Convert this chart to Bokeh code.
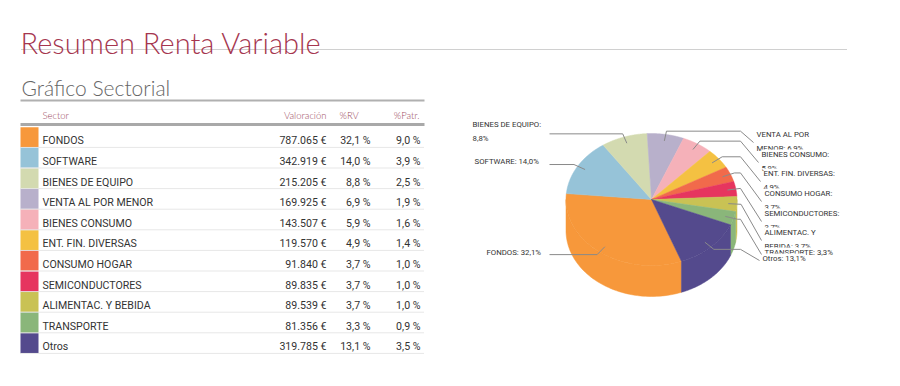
import numpy as np
from bokeh.plotting import figure
from bokeh.models import Range1d, Label, ColumnDataSource
from bokeh.embed import file_html
from bokeh.resources import INLINE
from bokeh.core.properties import value

# ---------------- data ----------------
sectors = ["FONDOS", "SOFTWARE", "BIENES DE EQUIPO", "VENTA AL POR MENOR",
           "BIENES CONSUMO", "ENT. FIN. DIVERSAS", "CONSUMO HOGAR",
           "SEMICONDUCTORES", "ALIMENTAC. Y BEBIDA", "TRANSPORTE", "Otros"]
valoracion = [787065, 342919, 215205, 169925, 143507, 119570, 91840,
              89835, 89539, 81356, 319785]
pct_rv = [32.1, 14.0, 8.8, 6.9, 5.9, 4.9, 3.7, 3.7, 3.7, 3.3, 13.1]
pct_patr = [9.0, 3.9, 2.5, 1.9, 1.6, 1.4, 1.0, 1.0, 1.0, 0.9, 3.5]
colors = ["#f7983b", "#96c3d8", "#d3dab0", "#b8b0cb", "#f5b1b9", "#f4c142",
          "#f16a4b", "#e6355f", "#c9c254", "#8ab67a", "#544a8d"]
pie_labels = ["FONDOS: 32,1%", "SOFTWARE: 14,0%", "BIENES DE EQUIPO:\n8,8%",
              "VENTA AL POR\nMENOR: 6,9%", "BIENES CONSUMO:\n5,9%",
              "ENT. FIN. DIVERSAS:\n4,9%", "CONSUMO HOGAR:\n3,7%",
              "SEMICONDUCTORES:\n3,7%", "ALIMENTAC. Y\nBEBIDA: 3,7%",
              "TRANSPORTE: 3,3%", "Otros: 13,1%"]
headers = ["Sector", "Valoración", "%RV", "%Patr."]
title_text = "Resumen Renta Variable"
subtitle_text = "Gráfico Sectorial"

# ---------------- layout ----------------
W, H = 884, 370
TXT = value("Roboto")
THIN = "Lato Light, Lato"
p = figure(width=W, height=H, x_range=Range1d(0, W), y_range=Range1d(H, 0),
           output_backend="svg", toolbar_location=None, x_axis_type=None,
           y_axis_type=None, min_border=0, outline_line_color=None)
p.xgrid.visible = False
p.ygrid.visible = False
p.background_fill_color = "white"

# titles
p.add_layout(Label(x=20, y=42, text=title_text, text_font=THIN, text_font_size="29px",
                   text_color="#a5364f", text_baseline="alphabetic"))
p.segment(x0=[21], y0=[49], x1=[846], y1=[49], line_color="#a0a0a0",
          line_width=1, line_dash="1 1")
p.add_layout(Label(x=21, y=87, text=subtitle_text, text_font=THIN, text_font_size="21px",
                   text_color="#666666", text_baseline="alphabetic"))
p.segment(x0=[20], y0=[100], x1=[424], y1=[100], line_color="#b0b0b0", line_width=2)

# table header
hdr_x = [42, 326, 339, 419]
hdr_align = ["left", "right", "left", "right"]
for t, hx, ha in zip(headers, hdr_x, hdr_align):
    p.add_layout(Label(x=hx, y=115, text=t, text_font=THIN, text_font_size="9.5px",
                       text_color="#9c4a5e", text_baseline="alphabetic", text_align=ha))
p.segment(x0=[20], y0=[124], x1=[424], y1=[124], line_color="#a9a9a9", line_width=3)

# table rows
n = len(sectors)
row_top, row_h = 126.3, 20.6
idx = np.arange(n)
centers = row_top + row_h * (idx + 0.5)
fmt_val = [f"{v:,}".replace(",", ".") + " €" for v in valoracion]
fmt_rv = [f"{v:.1f}".replace(".", ",") + " %" for v in pct_rv]
fmt_pa = [f"{v:.1f}".replace(".", ",") + " %" for v in pct_patr]
src = ColumnDataSource(dict(y=centers, yb=centers + 3.7, name=sectors, val=fmt_val,
                            rv=fmt_rv, pa=fmt_pa, color=colors))
p.rect(x=29, y="y", width=18, height=row_h - 0.8, fill_color="color",
       line_color=None, source=src)
FS = "10.6px"
p.text(x=42, y="yb", text="name", source=src, text_font=TXT, text_font_size=FS,
       text_color="#333333", text_baseline="alphabetic")
p.text(x=326, y="yb", text="val", source=src, text_font=TXT, text_font_size=FS,
       text_color="#333333", text_baseline="alphabetic", text_align="right")
p.text(x=370, y="yb", text="rv", source=src, text_font=TXT, text_font_size=FS,
       text_color="#333333", text_baseline="alphabetic", text_align="right")
p.text(x=420, y="yb", text="pa", source=src, text_font=TXT, text_font_size=FS,
       text_color="#333333", text_baseline="alphabetic", text_align="right")
sep_y = row_top + row_h * (idx + 1)
p.segment(x0=20, y0=sep_y, x1=424, y1=sep_y, line_color="#cfcfcf",
          line_width=1, line_dash="1 1")

# ---------------- 3D pie ----------------
cx, cy, rx, ry, depth = 651, 199, 85.5, 66, 31
start = -69.5
fr = np.array(valoracion, float) / sum(valoracion)
a_start = start - 360 * np.concatenate([[0], np.cumsum(fr)[:-1]])
a_end = a_start - 360 * fr

side_xs, side_ys, side_c = [], [], []
for i in range(n):
    lo, hi = a_end[i], a_start[i]
    for k in range(-2, 2):
        s, e = max(lo, -180 + 360 * k), min(hi, 360 * k)
        if e > s:
            th = np.radians(np.linspace(s, e, 60))
            xt = cx + rx * np.cos(th)
            yt = cy - ry * np.sin(th)
            side_xs.append(np.concatenate([xt, xt[::-1]]))
            side_ys.append(np.concatenate([yt, yt[::-1] + depth]))
            side_c.append(colors[i])
p.patches(side_xs, side_ys, fill_color=side_c, line_color=side_c, line_width=0.5)

top_xs, top_ys = [], []
for i in range(n):
    th = np.radians(np.linspace(a_start[i], a_end[i], 120))
    top_xs.append(np.concatenate([[cx], cx + rx * np.cos(th)]))
    top_ys.append(np.concatenate([[cy], cy - ry * np.sin(th)]))
p.patches(top_xs, top_ys, fill_color=colors, line_color=colors, line_width=0.5)

# leader lines and labels
left_lbl_x = [486, 474, 472]
left_lbl_y = [254, 163, 126]
right_lbl_x = [756, 761, 763, 764, 764, 764, 764, 762]
right_lbl_y = [136, 156, 175, 195, 215, 234, 254, 260]
lead_xs, lead_ys = [], []
mid = np.radians((a_start + a_end) / 2)
for i in range(n):
    ix, iy = cx + 0.9 * rx * np.cos(mid[i]), cy - 0.9 * ry * np.sin(mid[i])
    ex, ey = cx + 1.05 * rx * np.cos(mid[i]), cy - 1.05 * ry * np.sin(mid[i])
    if i < 3:
        lead_xs.append([ix, ex, 549])
        lead_ys.append([iy, ey, ey])
    else:
        j = i - 3
        two = "\n" in pie_labels[i]
        my = right_lbl_y[j] + (6 if two else 0)
        lead_xs.append([ix, ex, max(ex, 740), right_lbl_x[j] - 3])
        lead_ys.append([iy, ey, ey, my])
p.multi_line(lead_xs, lead_ys, line_color="#8a8a8a", line_width=1)

for i in range(n):
    if i < 3:
        lx, ly = left_lbl_x[i], left_lbl_y[i]
    else:
        lx, ly = right_lbl_x[i - 3], right_lbl_y[i - 3]
    p.add_layout(Label(x=lx, y=ly - 7, text=pie_labels[i], text_font="Roboto",
                       text_font_size="7.8px", text_color="#333333",
                       text_baseline="top", text_line_height=1.6,
                       background_fill_color="white"))

open("out.html", "w").write(file_html(p, INLINE))
